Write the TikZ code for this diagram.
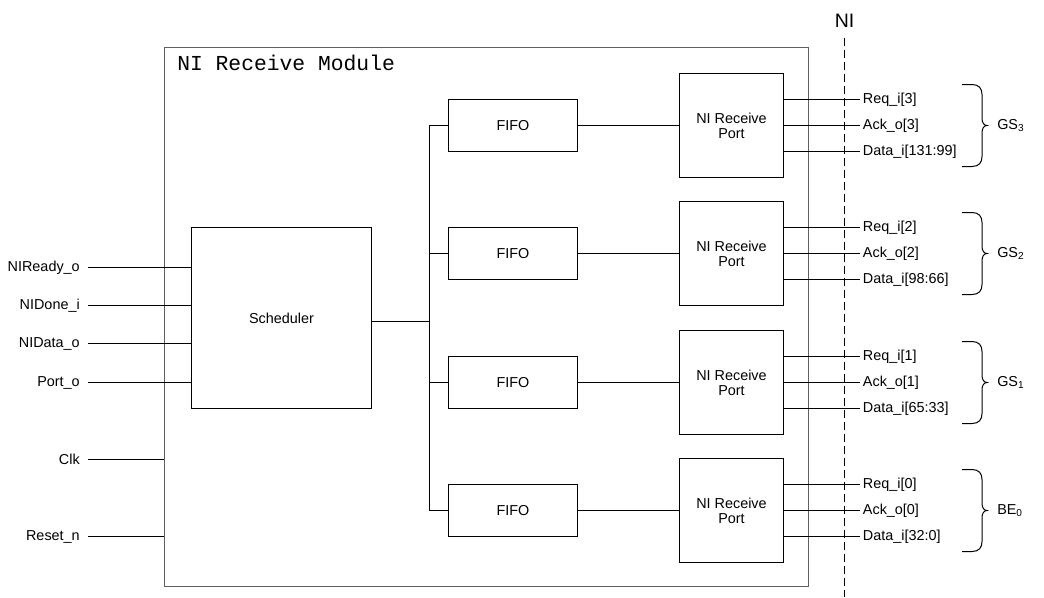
\documentclass[tikz,border=0pt]{standalone}
\usepackage{fontspec}
\setmainfont{Liberation Sans}
\newfontfamily\monofont{Liberation Mono}
\begin{document}
\begin{tikzpicture}[x=0.75pt,y=-0.75pt,
  txt/.style={font=\fontsize{10.8}{11.3}\selectfont},
  blk/.style={draw=black,line width=0.75pt,rectangle,txt,align=center,inner sep=0pt},
  wire/.style={draw=black,line width=0.75pt},
  lbl/.style={txt,inner sep=0pt},
  lsig/.style={txt,anchor=east,inner xsep=6pt,inner ysep=0pt},
  rsig/.style={txt,anchor=west,inner xsep=2pt,inner ysep=0pt},
  brc/.style={draw=black,line width=0.75pt}]
\useasboundingbox (0,0) rectangle (1044,597);
% module
\node[draw={rgb,255:red,96;green,96;blue,96},line width=0.75pt,minimum width={644*0.75pt},minimum height={539*0.75pt},inner sep=0pt] (mod) at (486.5,317) {};
\node[anchor=west,inner sep=0pt,font=\monofont\fontsize{16}{18}\selectfont] (title) at (177,63) {NI Receive Module};
% NI line
\node[lbl,font=\fontsize{14.6}{16}\selectfont] (ni) at (844.5,21) {NI};
\coordinate (nitop) at (844.5,38);
\coordinate (nibot) at (844.5,597);
\draw[line width=0.75pt,dash pattern=on 6pt off 3pt] (nitop) -- (nibot);
% scheduler
\node[blk,minimum width={180*0.75pt},minimum height={181*0.75pt}] (sch) at (281.5,318) {Scheduler};
% FIFOs and ports
\foreach \i/\y in {1/125.5,2/253.5,3/382.5,4/510.5}{
  \node[blk,minimum width={129*0.75pt},minimum height={52*0.75pt}] (f\i) at (513,\y) {FIFO};
  \node[blk,minimum width={104*0.75pt},minimum height={104*0.75pt}] (p\i) at (731.5,\y) {NI Receive\\Port};
}
% left signals
\node[lsig] (s1) at (88,267.5) {NIReady\_o};
\node[lsig] (s2) at (88,305.5) {NIDone\_i};
\node[lsig] (s3) at (88,343.5) {NIData\_o};
\node[lsig] (s4) at (88,382.5) {Port\_o};
\node[lsig] (s5) at (88,459.5) {Clk};
\node[lsig] (s6) at (88,536.5) {Reset\_n};
\foreach \i in {1,2,3,4}{\draw[wire] (s\i.east) -- (sch.west |- s\i.east);}
\foreach \i in {5,6}{\draw[wire] (s\i.east) -- (mod.west |- s\i.east);}
% bus
\coordinate (bus) at (429.5,321.5);
\draw[wire] (sch.east |- bus) -- (bus);
\draw[wire] (f1.west) -- (f1.west -| bus) -- (f4.west -| bus) -- (f4.west);
\draw[wire] (f2.west -| bus) -- (f2.west);
\draw[wire] (f3.west -| bus) -- (f3.west);
\foreach \i in {1,2,3,4}{\draw[wire] (f\i.east) -- (p\i.west);}
% right signals
\foreach \i/\n/\d in {1/3/131:99,2/2/98:66,3/1/65:33,4/0/32:0}{
  \node[rsig] (rq\i) at ([yshift={26*0.75pt}]p\i.center -| 860,0) {Req\_i[\n]};
  \node[rsig] (ak\i) at (p\i.center -| 860,0) {Ack\_o[\n]};
  \node[rsig] (dt\i) at ([yshift={-26*0.75pt}]p\i.center -| 860,0) {Data\_i[\d]};
  \draw[wire] (p\i.east |- rq\i.west) -- (rq\i.west);
  \draw[wire] (p\i.east |- ak\i.west) -- (ak\i.west);
  \draw[wire] (p\i.east |- dt\i.west) -- (dt\i.west);
}
% braces
\foreach \i/\t in {1/{GS\textsubscript{3}},2/{GS\textsubscript{2}},3/{GS\textsubscript{1}},4/{BE\textsubscript{0}}}{
  \coordinate (bt\i) at ([yshift={41*0.75pt}]p\i.center -| 962,0);
  \coordinate (bm\i) at (p\i.center -| 987,0);
  \draw[brc] (bt\i) -- ++(10,0) .. controls ++(7,0) and ++(0,-6) .. ++(10,10)
     -- ++(0,24) .. controls ++(0,4) and ++(-3,0) .. (bm\i)
     .. controls ++(-3,0) and ++(0,-4) .. ++(-5,7) -- ++(0,24)
     .. controls ++(0,6) and ++(7,0) .. ++(-10,10) -- ++(-10,0);
  \node[lbl,anchor=west] (g\i) at ([xshift={10*0.75pt}]bm\i) {\t};
}
\end{tikzpicture}
\end{document}
